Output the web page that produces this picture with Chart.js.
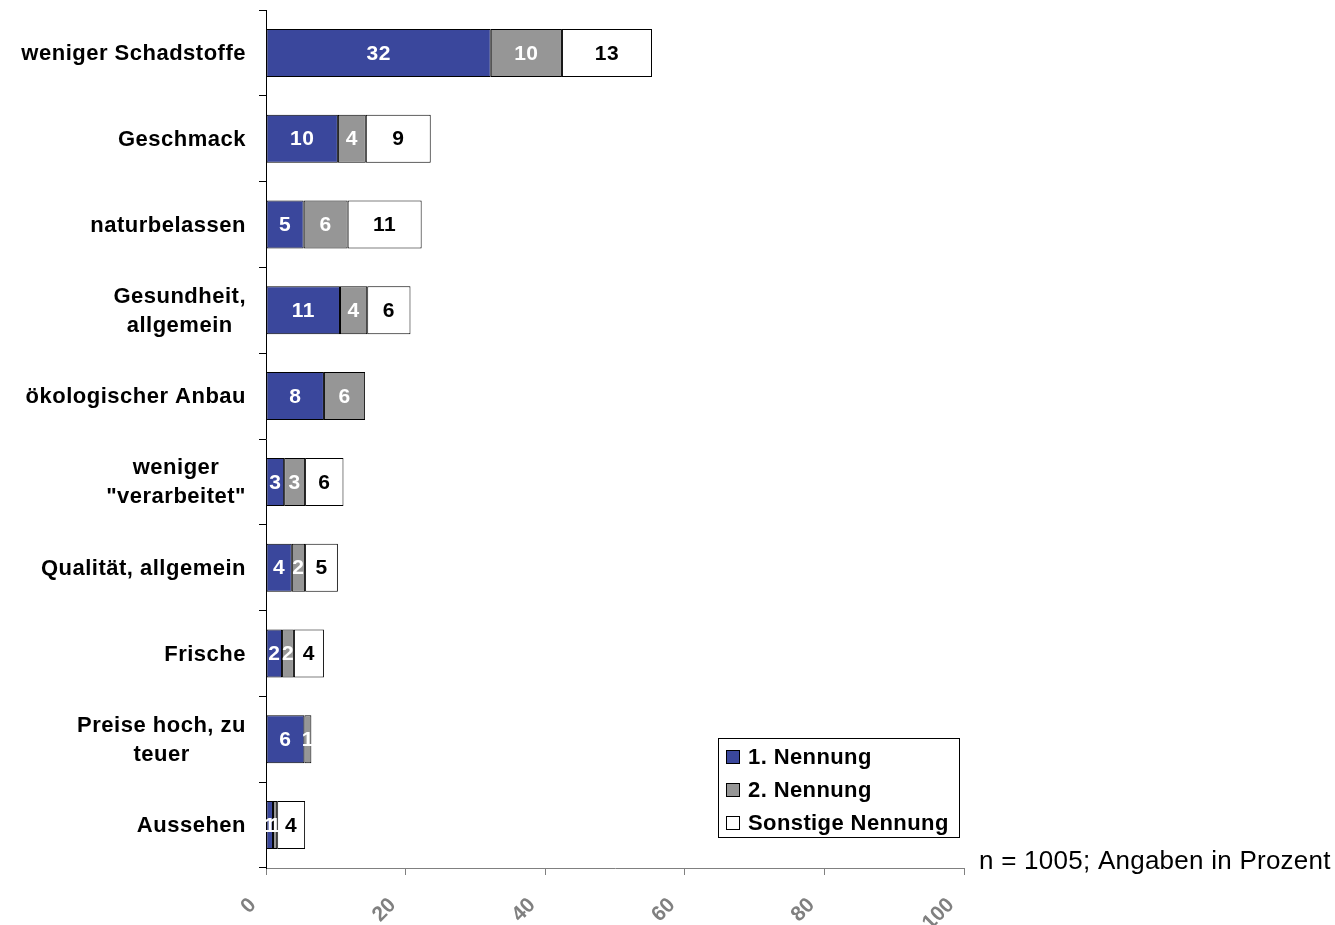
<!DOCTYPE html>
<html>
<head>
<meta charset="utf-8">
<script src="https://cdn.jsdelivr.net/npm/chart.js@4"></script>
<style>
html,body{margin:0;padding:0;background:#fff;}
#wrap{position:relative;width:1335px;height:925px;}
</style>
</head>
<body>
<div id="wrap"><canvas id="c" width="1335" height="925"></canvas></div>
<script>
const categories = [
  ["weniger Schadstoffe"],
  ["Geschmack"],
  ["naturbelassen"],
  ["Gesundheit,", "allgemein"],
  ["ökologischer Anbau"],
  ["weniger", "\"verarbeitet\""],
  ["Qualität, allgemein"],
  ["Frische"],
  ["Preise hoch, zu", "teuer"],
  ["Aussehen"]
];
const seriesNames = ["1. Nennung", "2. Nennung", "Sonstige Nennung"];
const nennung1 = [32.2, 10.3, 5.4, 10.6, 8.3, 2.6, 3.7, 2.3, 5.5, 1.0];
const nennung2 = [10.2, 4.0, 6.3, 3.9, 5.9, 3.0, 1.9, 1.7, 1.0, 0.6];
const sonstige = [12.9, 9.3, 10.6, 6.2, 0, 5.5, 4.7, 4.3, 0, 4.0];
const xTicks = [0, 20, 40, 60, 80, 100];
const footnote = "n = 1005; Angaben in Prozent";

const colors = ["#3A479C", "#969696", "#FFFFFF"];
const labelColors = ["#FFFFFF", "#FFFFFF", "#000000"];
const FONT = 'Arial, "Liberation Sans", sans-serif';

const customDraw = {
  id: 'customDraw',
  afterDatasetsDraw(chart) {
    const ctx = chart.ctx;
    ctx.save();
    ctx.font = 'bold 21px ' + FONT;
    ctx.letterSpacing = '0.5px';
    ctx.textAlign = 'center';
    ctx.textBaseline = 'middle';
    chart.data.datasets.forEach((ds, di) => {
      const meta = chart.getDatasetMeta(di);
      meta.data.forEach((bar, i) => {
        const v = ds.data[i];
        if (!v) return;
        const cx = (bar.x + bar.base) / 2;
        ctx.fillStyle = labelColors[di];
        ctx.fillText(String(Math.round(v)), cx, bar.y + 1);
      });
    });
    ctx.restore();
  },
  afterDraw(chart) {
    const ctx = chart.ctx;
    const ys = chart.scales.y;
    const xs = chart.scales.x;
    // category labels
    ctx.save();
    ctx.font = 'bold 22px ' + FONT;
    ctx.letterSpacing = '0.5px';
    ctx.fillStyle = '#000';
    ctx.textAlign = 'center';
    ctx.textBaseline = 'middle';
    const right = 246, lh = 29;
    categories.forEach((lines, i) => {
      const y = ys.getPixelForValue(i);
      const maxW = Math.max(...lines.map(l => ctx.measureText(l).width));
      const cx = right - maxW / 2;
      const y0 = y - (lines.length - 1) * lh / 2;
      lines.forEach((l, k) => ctx.fillText(l, cx, y0 + k * lh + 1));
    });
    ctx.restore();

    // x tick labels (rotated)
    ctx.save();
    ctx.font = 'bold 21px ' + FONT;
    ctx.fillStyle = '#808080';
    ctx.textAlign = 'right';
    ctx.textBaseline = 'middle';
    xTicks.forEach(v => {
      const x = xs.getPixelForValue(v);
      ctx.save();
      ctx.translate(x - 13, 902);
      ctx.rotate(-Math.PI / 4);
      ctx.fillText(String(v), 0, 0);
      ctx.restore();
    });
    ctx.restore();

    // legend
    ctx.save();
    const lx = 718.5, ly = 738.5, lw = 241, lhgt = 99;
    ctx.fillStyle = '#fff';
    ctx.fillRect(lx, ly, lw, lhgt);
    ctx.strokeStyle = '#000';
    ctx.lineWidth = 1;
    ctx.strokeRect(lx, ly, lw, lhgt);
    ctx.font = 'bold 22px ' + FONT;
    ctx.letterSpacing = '0.4px';
    ctx.textBaseline = 'middle';
    ctx.textAlign = 'left';
    seriesNames.forEach((n, k) => {
      const cy = 757 + k * 33;
      ctx.fillStyle = colors[k];
      ctx.fillRect(726.5, cy - 6.5, 13, 13);
      ctx.strokeStyle = '#000';
      ctx.strokeRect(726.5, cy - 6.5, 13, 13);
      ctx.fillStyle = '#000';
      ctx.fillText(n, 748, cy + 1);
    });
    ctx.restore();

    // footnote
    ctx.save();
    ctx.font = '26px ' + FONT;
    ctx.letterSpacing = '0.25px';
    ctx.fillStyle = '#000';
    ctx.textAlign = 'left';
    ctx.textBaseline = 'alphabetic';
    ctx.fillText(footnote, 979, 869);
    ctx.restore();
  }
};

const mkDs = (label, data, k) => ({
  label, data,
  backgroundColor: colors[k],
  borderColor: '#000',
  borderWidth: 1,
  borderSkipped: false,
  categoryPercentage: 1.0,
  barPercentage: 0.56
});

new Chart(document.getElementById('c'), {
  type: 'bar',
  data: {
    labels: categories,
    datasets: [
      mkDs(seriesNames[0], nennung1, 0),
      mkDs(seriesNames[1], nennung2, 1),
      mkDs(seriesNames[2], sonstige, 2)
    ]
  },
  options: {
    indexAxis: 'y',
    responsive: false,
    animation: false,
    layout: { padding: { left: 0, right: 371, top: 10, bottom: 0 } },
    plugins: { legend: { display: false }, tooltip: { enabled: false } },
    scales: {
      x: {
        stacked: true,
        min: 0, max: 100,
        afterBuildTicks(scale) { scale.ticks = xTicks.map(v => ({ value: v })); },
        afterFit(scale) { scale.height = 57; },
        border: { color: '#808080', width: 1 },
        grid: { drawOnChartArea: false, drawTicks: true, tickLength: 7, color: '#808080' },
        ticks: { display: false }
      },
      y: {
        stacked: true,
        afterFit(scale) { scale.width = 266; },
        border: { color: '#000', width: 1 },
        grid: { offset: true, drawOnChartArea: false, drawTicks: true, tickLength: 7, color: '#000' },
        ticks: { display: false }
      }
    }
  },
  plugins: [customDraw]
});
</script>
</body>
</html>
